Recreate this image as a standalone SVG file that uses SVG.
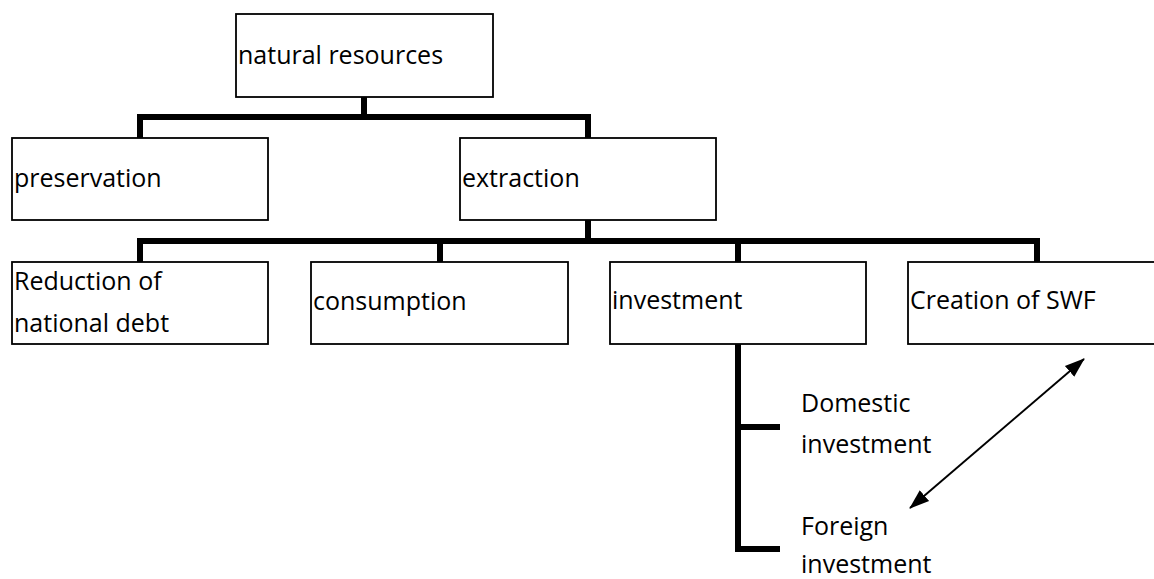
<svg xmlns="http://www.w3.org/2000/svg" width="1154" height="579" viewBox="0 0 1154 579">
  <style>
    .box { fill: #ffffff; stroke: #000000; stroke-width: 1.8; }
    .lbl { font-family: "Open Sans", "Noto Sans", sans-serif; font-size: 25px; fill: #000000; }
    .conn { fill: none; stroke: #000000; stroke-width: 6; stroke-linejoin: miter; stroke-linecap: butt; }
    .arrow { fill: none; stroke: #000000; stroke-width: 2; }
  </style>
  <defs>
    <marker id="ah" viewBox="0 0 10 10" refX="9.5" refY="5" markerWidth="10" markerHeight="10" markerUnits="strokeWidth" orient="auto-start-reverse">
      <path d="M0,1.4 L10,5 L0,8.6 Z" fill="#000000"/>
    </marker>
  </defs>
  <rect width="1154" height="579" fill="#ffffff"/>

  <g id="connectors">
    <path class="conn" d="M364,97 V117"/>
    <path class="conn" d="M140,138 V117 H588 V138"/>
    <path class="conn" d="M588,220 V241"/>
    <path class="conn" d="M140,262 V241 H1037 V262"/>
    <path class="conn" d="M440,241 V262"/>
    <path class="conn" d="M738,241 V262"/>
    <path class="conn" d="M738,344 V549 H780"/>
    <path class="conn" d="M738,427 H780"/>
    <line class="arrow" x1="910" y1="508" x2="1084" y2="359" marker-start="url(#ah)" marker-end="url(#ah)"/>
  </g>

  <g id="natural-resources">
    <rect class="box" x="236" y="14" width="257" height="83"/>
    <text class="lbl" x="238" y="64">natural resources</text>
  </g>
  <g id="preservation">
    <rect class="box" x="12" y="138" width="256" height="82"/>
    <text class="lbl" x="14" y="187">preservation</text>
  </g>
  <g id="extraction">
    <rect class="box" x="460" y="138" width="256" height="82"/>
    <text class="lbl" x="462" y="187">extraction</text>
  </g>
  <g id="reduction">
    <rect class="box" x="12" y="262" width="256" height="82"/>
    <text class="lbl" x="14" y="290">Reduction of</text>
    <text class="lbl" x="14" y="332">national debt</text>
  </g>
  <g id="consumption">
    <rect class="box" x="311" y="262" width="257" height="82"/>
    <text class="lbl" x="313" y="310">consumption</text>
  </g>
  <g id="investment">
    <rect class="box" x="610" y="262" width="256" height="82"/>
    <text class="lbl" x="612" y="309">investment</text>
  </g>
  <g id="creation-of-swf">
    <rect class="box" x="908" y="262" width="256" height="82"/>
    <text class="lbl" x="910" y="309">Creation of SWF</text>
  </g>
  <g id="domestic-investment">
    <text class="lbl" x="801" y="412">Domestic</text>
    <text class="lbl" x="801" y="453">investment</text>
  </g>
  <g id="foreign-investment">
    <text class="lbl" x="801" y="535">Foreign</text>
    <text class="lbl" x="801" y="573">investment</text>
  </g>
</svg>
